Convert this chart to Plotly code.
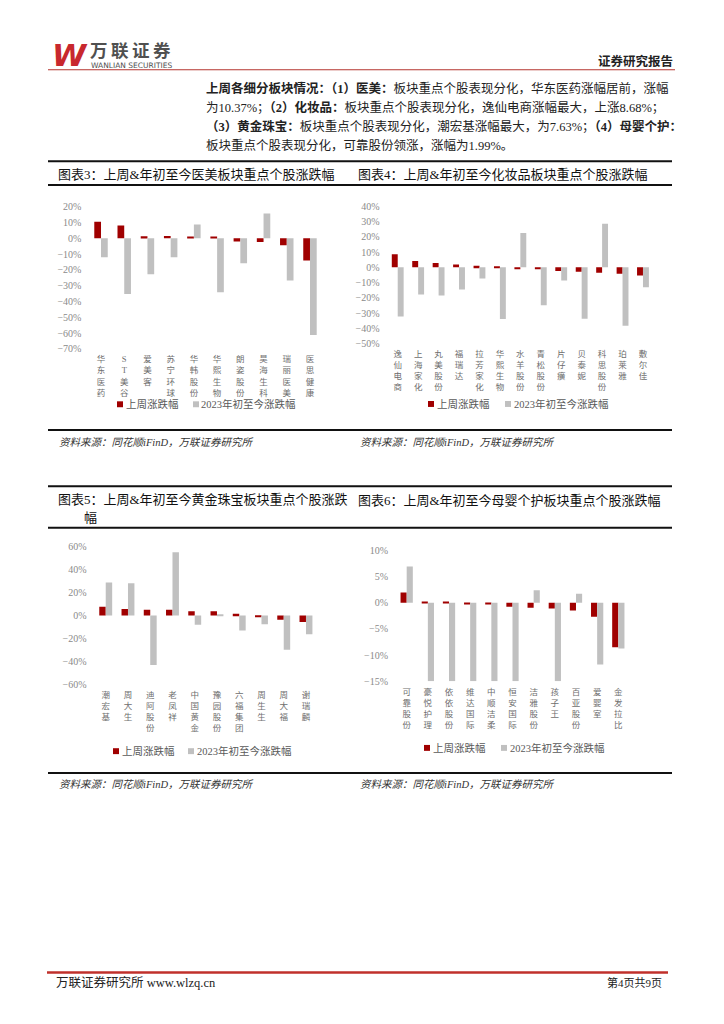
import plotly.graph_objects as go

W, H = 724, 1024

# ---------------- data ----------------
c3_categories = ["华东医药", "ST美谷", "爱美客", "苏宁环球", "华韩股份", "华熙生物", "朗姿股份", "昊海生科", "瑞丽医美", "医思健康"]
c3_week = [10.37, 8.1, 1.2, 1.4, 0.8, 0.8, -2.1, -2.3, -4.4, -14.1]
c3_ytd = [-12.0, -35.3, -22.8, -12.0, 8.7, -34.2, -15.8, 15.6, -26.8, -61.2]
c3_ticks = [20, 10, 0, -10, -20, -30, -40, -50, -60, -70]

c4_categories = ["逸仙电商", "上海家化", "丸美股份", "福瑞达", "拉芳家化", "华熙生物", "水羊股份", "青松股份", "片仔癀", "贝泰妮", "科思股份", "珀莱雅", "敷尔佳"]
c4_week = [8.68, 4.1, 2.8, 1.9, 1.1, 0.4, -0.8, -1.3, -2.4, -2.8, -3.5, -4.1, -5.4]
c4_ytd = [-32.2, -17.7, -18.4, -14.5, -7.3, -33.9, 22.5, -24.8, -8.6, -33.7, 28.5, -38.2, -13.0]
c4_ticks = [40, 30, 20, 10, 0, -10, -20, -30, -40, -50]

c5_categories = ["潮宏基", "周大生", "迪阿股份", "老凤祥", "中国黄金", "豫园股份", "六福集团", "周生生", "周大福", "谢瑞麟"]
c5_week = [7.63, 5.7, 4.9, 4.9, 3.7, 3.7, 1.4, -0.9, -3.7, -5.7]
c5_ytd = [28.6, 28.0, -42.9, 54.9, -8.0, 0.3, -13.1, -7.7, -29.7, -16.3]
c5_ticks = [60, 40, 20, 0, -20, -40, -60]

c6_categories = ["可靠股份", "豪悦护理", "依依股份", "维达国际", "中顺洁柔", "恒安国际", "洁雅股份", "孩子王", "百亚股份", "爱婴室", "金发拉比"]
c6_week = [1.99, 0.1, 0.1, -0.2, -0.3, -0.76, -0.95, -1.07, -1.45, -2.65, -8.5]
c6_ytd = [6.93, -15.0, -15.0, -15.0, -15.0, -15.0, 2.4, -15.0, 1.76, -11.8, -8.75]
c6_ticks = [10, 5, 0, -5, -10, -15]

series_names = ["上周涨跌幅", "2023年初至今涨跌幅"]

titles = [
    "图表3：上周&年初至今医美板块重点个股涨跌幅",
    "图表4：上周&年初至今化妆品板块重点个股涨跌幅",
    "图表5：上周&年初至今黄金珠宝板块重点个股涨跌",
    "图表6：上周&年初至今母婴个护板块重点个股涨跌幅",
]
source_text = "资料来源：同花顺iFinD，万联证券研究所"

paragraph = [
    "<b>上周各细分板块情况：（1）医美：</b>板块重点个股表现分化，华东医药涨幅居前，涨幅",
    "为10.37%；<b>（2）化妆品：</b>板块重点个股表现分化，逸仙电商涨幅最大，上涨8.68%；",
    "<b>（3）黄金珠宝：</b>板块重点个股表现分化，潮宏基涨幅最大，为7.63%；<b>（4）母婴个护：</b>",
    "板块重点个股表现分化，可靠股份领涨，涨幅为1.99%。",
]

# ---------------- style ----------------
RED = "#A00000"
GRAY = "#C0C0C0"
TICK_COLOR = "#8A8A8A"
LABEL_COLOR = "#6E6E6E"
FONT = "Liberation Serif, Noto Sans CJK SC"
CJK = "Noto Sans CJK SC"


def fx(x):
    return x / W


def fy(y):
    return 1 - y / H


def pct_label(v):
    return ("\u2212" if v < 0 else "") + f"{abs(v)}%"


charts = [
    dict(cats=c3_categories, week=c3_week, ytd=c3_ytd, ticks=c3_ticks,
         dom_x=(89.4, 321.6), dom_y=(203, 347), legend=(117, 193, 403)),
    dict(cats=c4_categories, week=c4_week, ytd=c4_ytd, ticks=c4_ticks,
         dom_x=(387.5, 653.2), dom_y=(202.7, 341.7), legend=(428, 505, 402.7)),
    dict(cats=c5_categories, week=c5_week, ytd=c5_ytd, ticks=c5_ticks,
         dom_x=(94.6, 317.1), dom_y=(546.7, 686.7), legend=(113, 188, 754)),
    dict(cats=c6_categories, week=c6_week, ytd=c6_ytd, ticks=c6_ticks,
         dom_x=(396.1, 628.9), dom_y=(551, 683.3), legend=(424, 501, 750.7)),
]

fig = go.Figure()
layout = dict(
    width=W, height=H, margin=dict(l=0, r=0, t=0, b=0),
    paper_bgcolor="white", plot_bgcolor="white",
    barmode="group", bargap=0.42, bargroupgap=0,
    showlegend=False,
    font=dict(family=FONT, color="#222"),
)

shapes = []
annotations = []

for i, ch in enumerate(charts, start=1):
    sx = "" if i == 1 else str(i)
    xa, ya = "x" + sx, "y" + sx
    fig.add_trace(go.Bar(x=ch["cats"], y=ch["week"], name=series_names[0],
                         marker=dict(color=RED, line=dict(width=0)),
                         xaxis=xa, yaxis=ya, hoverinfo="x+y"))
    fig.add_trace(go.Bar(x=ch["cats"], y=ch["ytd"], name=series_names[1],
                         marker=dict(color=GRAY, line=dict(width=0)),
                         xaxis=xa, yaxis=ya, hoverinfo="x+y"))
    layout["xaxis" + sx] = dict(
        domain=[fx(ch["dom_x"][0]), fx(ch["dom_x"][1])], anchor=ya,
        type="category", tickvals=ch["cats"],
        ticktext=["<br>".join(list(c)) for c in ch["cats"]],
        tickfont=dict(size=8.5, color=LABEL_COLOR, family=FONT),
        showgrid=False, zeroline=False, showline=False, ticks="",
        ticklabelstandoff=4, fixedrange=True,
    )
    layout["yaxis" + sx] = dict(
        domain=[fy(ch["dom_y"][1]), fy(ch["dom_y"][0])], anchor=xa,
        range=[min(ch["ticks"]), max(ch["ticks"])],
        tickvals=ch["ticks"], ticktext=[pct_label(v) for v in ch["ticks"]],
        tickfont=dict(size=10, color=TICK_COLOR, family=FONT),
        showgrid=False, zeroline=False, showline=False, ticks="",
        ticklabelstandoff=7, fixedrange=True,
    )
    # legend keys
    lx1, lx2, ly = ch["legend"]
    for kx, col, name in ((lx1, RED, series_names[0]), (lx2, GRAY, series_names[1])):
        shapes.append(dict(type="rect", xref="paper", yref="paper",
                           x0=fx(kx), x1=fx(kx + 6), y0=fy(ly + 3), y1=fy(ly - 3),
                           fillcolor=col, line=dict(width=0)))
        annotations.append(dict(xref="paper", yref="paper", x=fx(kx + 6.5), y=fy(ly),
                                xanchor="left", yanchor="middle", showarrow=False,
                                text=name, font=dict(size=10.5, color="#5A5A5A", family=FONT)))

# ---------------- page decoration ----------------
def hline(y, x0, x1, color, width):
    shapes.append(dict(type="line", xref="paper", yref="paper",
                       x0=fx(x0), x1=fx(x1), y0=fy(y), y1=fy(y),
                       line=dict(color=color, width=width)))

hline(64.5, 48, 675, "#B5352F", 1.2)
for yy in (157, 181, 429, 486, 528, 776):
    hline(yy, 48, 672, "#111111", 2)
hline(978, 47, 668, "#C0302B", 2.5)

def text(x, y, s, size, color="#222", family=FONT, anchor="left", pad=1):
    annotations.append(dict(xref="paper", yref="paper", x=fx(x), y=fy(y),
                            xanchor=anchor, yanchor="middle", showarrow=False,
                            borderpad=pad,
                            text=s, font=dict(size=size, color=color, family=family)))

# logo
text(51, 50, "<b><i>W</i></b>", 31, "#C8282E", "DejaVu Sans", pad=0)
text(89, 44, "<b>万\u2009联\u2009证\u2009券</b>", 17.5, "#505050", CJK, pad=0)
text(90, 60.5, "WANLIAN SECURITIES", 7.5, "#505050", "DejaVu Sans", pad=0)
text(675, 55, "<b>证券研究报告</b>", 12.5, "#222", CJK, anchor="right")

# paragraph
for s, yy in zip(paragraph, (83, 103, 122, 141)):
    text(204, yy, s, 12.5, "#222", FONT)

# chart titles
text(56, 170, titles[0], 13, "#111", FONT)
text(356, 170, titles[1], 13, "#111", FONT)
text(56, 499, titles[2], 13, "#111", FONT)
text(82, 518, "幅", 13, "#111", FONT)
text(356, 500, titles[3], 13, "#111", FONT)

# sources
for sx_, sy_ in ((57, 442), (358, 442), (57, 788), (358, 788)):
    text(sx_, sy_, "<i>" + source_text + "</i>", 10.5, "#333", FONT)

# footer
text(54, 988, "万联证券研究所 www.wlzq.cn", 12.5, "#222", FONT)
text(664, 988, "第4页共9页", 11, "#222", FONT, anchor="right")

layout["shapes"] = shapes
layout["annotations"] = annotations
fig.update_layout(**layout)

fig.write_html("out.html", config={"displayModeBar": False},
               post_script="document.body.style.margin='0px';document.body.style.overflow='hidden';")
